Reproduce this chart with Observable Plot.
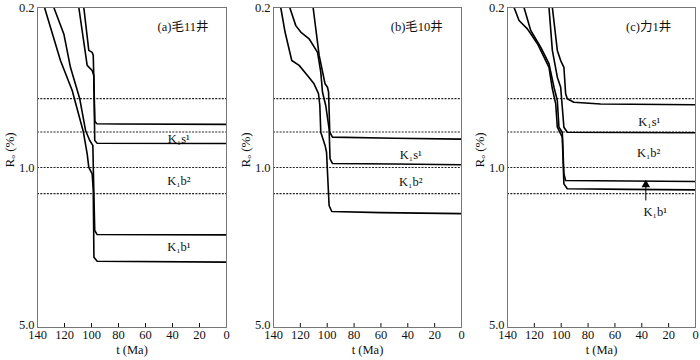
<!DOCTYPE html>
<html><head><meta charset="utf-8">
<script src="https://cdn.jsdelivr.net/npm/d3@7"></script>
<script src="https://cdn.jsdelivr.net/npm/@observablehq/plot@0.6"></script>
<style>
body{margin:0;background:#fff;}
#wrap{position:relative;width:700px;height:360px;overflow:hidden;}
#wrap svg{position:absolute;top:0;}
</style></head><body><div id="wrap"></div>
<script>
// axis ticks
const xTicks = [140, 120, 100, 80, 60, 40, 20, 0];
const yTicks = [0.2, 1.0, 5.0];
// dashed Ro reference levels (%)
const windowRo = [0.5, 0.7, 1.0, 1.3];
const wells = ["(a)毛11井", "(b)毛10井", "(c)力1井"];

// curves: [t (Ma), Ro (%)]
// (a) 毛11井
const a1 = [[105.7,0.2],[102.0,0.308],[99.5,0.314],[98.7,0.324],[97.5,0.63],[96.0,0.644],[80,0.646],[0,0.648]];
const a2 = [[109.4,0.2],[103.2,0.358],[99.5,0.377],[98.3,0.396],[97.6,0.762],[95.8,0.783],[0,0.786]];
const a3 = [[127.9,0.2],[120.5,0.261],[115.6,0.365],[108.7,0.501],[104.4,0.689],[101.3,0.762],[99.0,0.801],[98.3,1.261],[97.6,1.885],[95.8,1.963],[0,1.97]];
const a4 = [[134.8,0.2],[130.4,0.244],[123.0,0.341],[114.3,0.461],[106.1,0.696],[103.2,0.872],[102.0,0.998],[99.5,1.066],[98.7,1.26],[98.2,2.466],[95.8,2.567],[0,2.59]];
// (b) 毛10井
const b1 = [[134.6,0.2],[131.4,0.256],[126.4,0.341],[120.9,0.358],[114.7,0.396],[109.8,0.431],[106.5,0.476],[105.5,0.536],[104.8,0.701],[101.6,0.801],[100.5,0.858],[98.6,1.466],[96.6,1.557],[60,1.575],[0,1.59]];
const b2 = [[127.9,0.2],[123.4,0.240],[119.7,0.256],[113.5,0.274],[107.2,0.314],[104.8,0.383],[103.5,0.469],[101.1,0.536],[98.6,0.678],[97.9,0.916],[96.1,0.960],[50,0.966],[0,0.973]];
const b3 = [[110.5,0.2],[106.0,0.324],[101.6,0.431],[99.8,0.446],[99.0,0.468],[98.1,0.701],[96.1,0.737],[50,0.745],[0,0.752]];
// (c) 力1井
const c1 = [[135.1,0.2],[131.4,0.228],[125.2,0.248],[117.7,0.288],[109.1,0.365],[106.6,0.453],[104.1,0.527],[102.9,0.667],[100.4,0.713],[99.2,0.737],[98.0,1.179],[95.5,1.239],[50,1.246],[0,1.252]];
const c2 = [[127.7,0.2],[122.7,0.252],[115.3,0.298],[109.1,0.352],[105.4,0.446],[102.9,0.510],[101.7,0.667],[99.2,0.701],[98.0,1.066],[96.7,1.14],[50,1.146],[0,1.151]];
const c3 = [[109.1,0.2],[106.6,0.308],[102.9,0.403],[100.4,0.446],[98.0,0.667],[95.5,0.701],[50,0.703],[0,0.705]];
const c4 = [[106.6,0.2],[102.9,0.308],[100.4,0.341],[98.0,0.365],[96.7,0.476],[95.5,0.501],[90.6,0.519],[70.7,0.528],[0,0.532]];

// layer labels: text, t, Ro
const labelsA = [["K₁s¹",35.3,0.75],["K₁b²",35.3,1.14],["K₁b¹",35.3,2.23]];
const labelsB = [["K₁s¹",37.8,0.878],["K₁b²",37.8,1.16]];
const labelsC = [["K₁s¹",34.4,0.634],["K₁b²",34.9,0.866],["K₁b¹",30,1.57]];
const titlePos = [[32.2,0.244],[33.3,0.244],[34.9,0.244]];
// arrow in (c): t, from Ro, to Ro
const arrowC = [37, 1.40, 1.19];

const font = "'Liberation Serif', 'DejaVu Serif', 'Noto Sans CJK SC'";

function panel(i, curves, labels, left, width, mL, mR, extra = []) {
  const svg = Plot.plot({
    width, height: 360,
    marginLeft: mL, marginRight: mR, marginTop: 7, marginBottom: 33,
    style: {fontSize: "12.5px", color: "#111", background: "transparent"},
    x: {domain: [140, 0], ticks: xTicks, tickSize: -4, tickPadding: 7, label: null},
    y: {type: "log", domain: [0.2, 5], reverse: true, ticks: yTicks, tickFormat: d3.format(".1f"), tickSize: 0, tickPadding: 3, label: null},
    marks: [
      Plot.ruleY(windowRo, {stroke: "#222", strokeWidth: 1.1, strokeDasharray: "2,1.3"}),
      ...curves.map(c => Plot.line(c, {x: d => d[0], y: d => d[1], stroke: "#000", strokeWidth: 1.6, strokeLinejoin: "round", clip: true})),
      Plot.text(labels, {x: d => d[1], y: d => d[2], text: d => d[0], fontSize: 12.5, fill: "#111"}),
      Plot.text([wells[i]], {x: () => titlePos[i][0], y: () => titlePos[i][1], text: d => d, fontSize: 12.5, fill: "#111"}),
      Plot.text(["t (Ma)"], {frameAnchor: "bottom", dy: 26.5, text: d => d, fontSize: 12.5, fill: "#111"}),
      Plot.text(["Rₒ (%)"], {frameAnchor: "left", dx: -28, rotate: -90, text: d => d, fontSize: 13, fill: "#111"}),
      ...extra,
      Plot.frame({stroke: "#777", strokeWidth: 1})
    ]
  });
  svg.setAttribute("font-family", font);
  svg.style.fontFamily = font;
  svg.querySelectorAll("g, text").forEach(el => { if (el.getAttribute("font-family")) el.setAttribute("font-family", font); });
  // nudge the bottom y label (5.0) up a little so it clears the x labels
  svg.querySelectorAll("[aria-label='y-axis tick label'] text").forEach(t => {
    if (t.textContent === "5.0") t.setAttribute("transform", (t.getAttribute("transform") || "") + " translate(0,-3)");
  });
  svg.style.left = left + "px";
  document.getElementById("wrap").appendChild(svg);
}

panel(0, [a1, a2, a3, a4], labelsA, 0, 233, 37, 7);
panel(1, [b1, b2, b3], labelsB, 233, 233, 40, 5);
panel(2, [c1, c2, c3, c4], labelsC, 466, 234, 41, 5, [
  Plot.ruleX([arrowC], {x: d => d[0], y1: d => d[1], y2: d => d[2], stroke: "#000", strokeWidth: 1}),
  Plot.dot([arrowC], {x: d => d[0], y: d => d[2], symbol: "triangle", r: 3.2, fill: "#000", stroke: "none"})
]);
</script></body></html>
